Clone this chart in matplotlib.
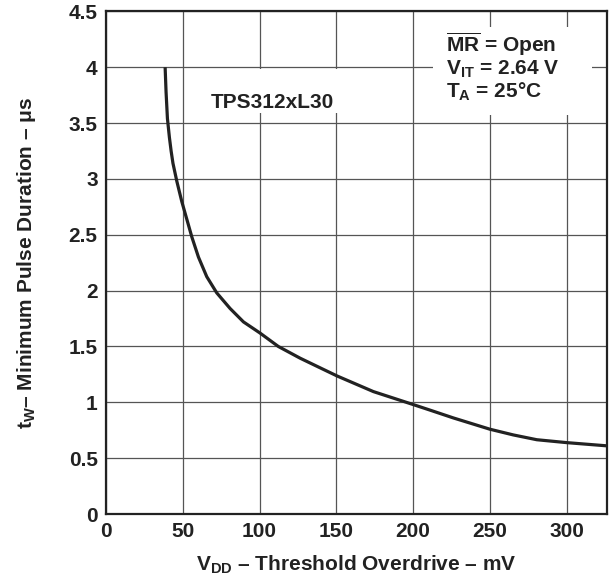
import matplotlib
matplotlib.use("Agg")
import matplotlib.pyplot as plt
from matplotlib.patches import Rectangle

plt.rcParams['font.family'] = ['Liberation Sans', 'DejaVu Sans']
plt.rcParams['font.weight'] = 'bold'
plt.rcParams['mathtext.fontset'] = 'custom'
plt.rcParams['mathtext.rm'] = 'Liberation Sans:bold'
plt.rcParams['mathtext.it'] = 'Liberation Sans:bold'
plt.rcParams['mathtext.bf'] = 'Liberation Sans:bold'

# Data
overdrive_mv = [38.5, 39.1, 40.0, 41.3, 42.4, 43.6, 46.1, 49.3, 52.6, 55.9, 60.2, 65.6,
                72.1, 80.8, 89.5, 100.3, 112.2, 126.4, 141.5, 150.6, 174.1, 200,
                211, 226.2, 250, 265.2, 280.5, 300, 326.4]
pulse_us = [4.0, 3.78, 3.54, 3.37, 3.25, 3.14, 2.98, 2.80, 2.64, 2.48, 2.30, 2.125,
            1.98, 1.84, 1.72, 1.62, 1.50, 1.395, 1.295, 1.235, 1.096, 0.98,
            0.930, 0.860, 0.759, 0.708, 0.665, 0.639, 0.61]

x_ticks = [0, 50, 100, 150, 200, 250, 300]
y_ticks = [0, 0.5, 1, 1.5, 2, 2.5, 3, 3.5, 4, 4.5]
y_tick_labels = ['0', '0.5', '1', '1.5', '2', '2.5', '3', '3.5', '4', '4.5']

TXT = '#222222'
FS = 15

fig = plt.figure(figsize=(6.14, 5.77), dpi=100)
ax = fig.add_axes([106/614, 63/577, 501.3/614, 502.6/577])

ax.plot(overdrive_mv, pulse_us, color=TXT, lw=2.3, solid_capstyle='butt',
        solid_joinstyle='round', zorder=5)

ax.set_xlim(0, 326.4)
ax.set_ylim(0, 4.5)
ax.set_xticks(x_ticks)
ax.set_yticks(y_ticks)
ax.set_yticklabels(y_tick_labels)
ax.tick_params(length=0, labelsize=FS, colors=TXT)
ax.tick_params(axis='x', pad=6)
ax.tick_params(axis='y', pad=6)
for lab in ax.get_xticklabels() + ax.get_yticklabels():
    lab.set_fontweight('bold')
ax.grid(True, color='#555555', lw=0.9)
ax.set_axisbelow(True)
for s in ax.spines.values():
    s.set_linewidth(1.6)
    s.set_color(TXT)

# white boxes behind annotations
ax.add_patch(Rectangle((213, 3.57), 103.5, 0.79, facecolor='white', edgecolor='none', zorder=3))
ax.add_patch(Rectangle((62, 3.59), 92, 0.395, facecolor='white', edgecolor='none', zorder=3))

ax.text(108.1, 3.636, 'TPS312xL30', ha='center', va='baseline', fontsize=FS,
        fontweight='bold', color=TXT, zorder=6)
ax.text(221.4, 4.140, r'$\overline{\mathrm{MR}}$ = Open', ha='left', va='baseline',
        fontsize=FS, fontweight='bold', color=TXT, zorder=6)
ax.text(221.4, 3.930, r'V$_{\mathrm{IT}}$ = 2.64 V', ha='left', va='baseline',
        fontsize=FS, fontweight='bold', color=TXT, zorder=6)
ax.text(221.4, 3.725, r'T$_{\mathrm{A}}$ = 25°C', ha='left', va='baseline',
        fontsize=FS, fontweight='bold', color=TXT, zorder=6)

ax.set_xlabel(r'V$_{\mathrm{DD}}$ – Threshold Overdrive – mV', fontsize=FS,
              fontweight='bold', color=TXT, labelpad=9)
ax.set_ylabel(r't$_{\mathrm{W}}$– Minimum Pulse Duration – $\mu$s', fontsize=FS,
              fontweight='bold', color=TXT, labelpad=22)

fig.savefig('out.png', dpi=100)
